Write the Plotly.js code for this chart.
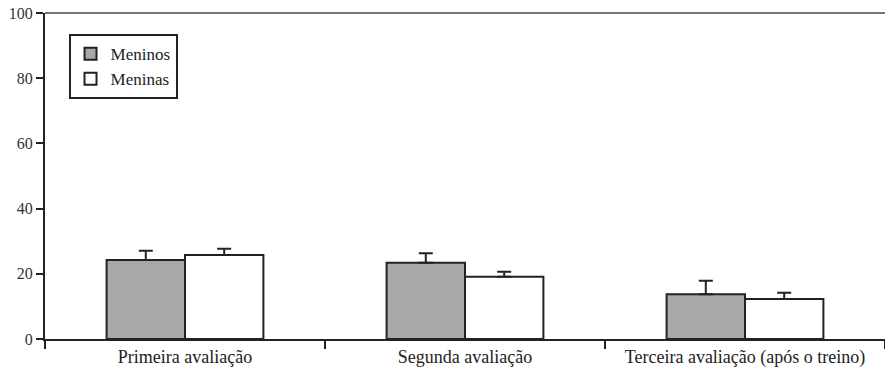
<!DOCTYPE html>
<html>
<head>
<meta charset="utf-8">
<script src="https://cdn.plot.ly/plotly-3.0.1.min.js"></script>
<style>
html,body{margin:0;padding:0;background:#fff;}
#chart{width:885px;height:367px;}
</style>
</head>
<body>
<div id="chart"></div>
<script>
const categories = ["Primeira avaliação", "Segunda avaliação", "Terceira avaliação (após o treino)"];
const meninos = [24.2, 23.4, 13.7];
const meninosErr = [2.9, 2.9, 4.2];
const meninas = [25.8, 19.1, 12.3];
const meninasErr = [1.9, 1.5, 1.9];
const yTicks = [0, 20, 40, 60, 80, 100];

const FAM = "Liberation Serif";

function errBar(arr) {
  return {type: "data", array: arr, arrayminus: arr.map(() => 0), symmetric: false,
          visible: true, color: "#222", thickness: 2, width: 7};
}

const traces = [
  {type: "bar", name: "Meninos", x: categories, y: meninos, error_y: errBar(meninosErr),
   marker: {color: "#a7a8aa", line: {color: "#222", width: 2}}},
  {type: "bar", name: "Meninas", x: categories, y: meninas, error_y: errBar(meninasErr),
   marker: {color: "#ffffff", line: {color: "#222", width: 2}}}
];

const layout = {
  width: 885, height: 367,
  margin: {l: 45, r: 0, t: 13, b: 28, pad: 0},
  paper_bgcolor: "#fff", plot_bgcolor: "#fff",
  font: {family: FAM, size: 16, color: "#222"},
  barmode: "group", bargap: 0.44, bargroupgap: 0,
  showlegend: true,
  legend: {x: 0.028, y: 0.935, xanchor: "left", yanchor: "top", bgcolor: "#fff",
           bordercolor: "#222", borderwidth: 2, font: {family: FAM, size: 17, color: "#222"},
           traceorder: "normal", itemwidth: 30, tracegroupgap: 0},
  xaxis: {type: "category", range: [-0.5, 2.5], tickson: "boundaries",
          showline: true, linecolor: "#222", linewidth: 2, ticks: "outside",
          ticklen: 8, tickwidth: 2, tickcolor: "#222", showgrid: false, zeroline: false,
          tickfont: {family: FAM, size: 18, color: "#222"}, fixedrange: true},
  yaxis: {range: [0, 100], tickvals: yTicks, ticktext: yTicks.map(String),
          showline: true, linecolor: "#222", linewidth: 2, ticks: "outside",
          ticklen: 7, tickwidth: 2, tickcolor: "#222", showgrid: false, zeroline: false,
          tickfont: {family: FAM, size: 16, color: "#333"}, fixedrange: true},
  shapes: [
    {type: "line", xref: "paper", yref: "paper", x0: 0, x1: 1, y0: 1, y1: 1,
     line: {color: "#777", width: 2}}
  ]
};

Plotly.newPlot("chart", traces, layout, {displayModeBar: false, staticPlot: true});
</script>
</body>
</html>
